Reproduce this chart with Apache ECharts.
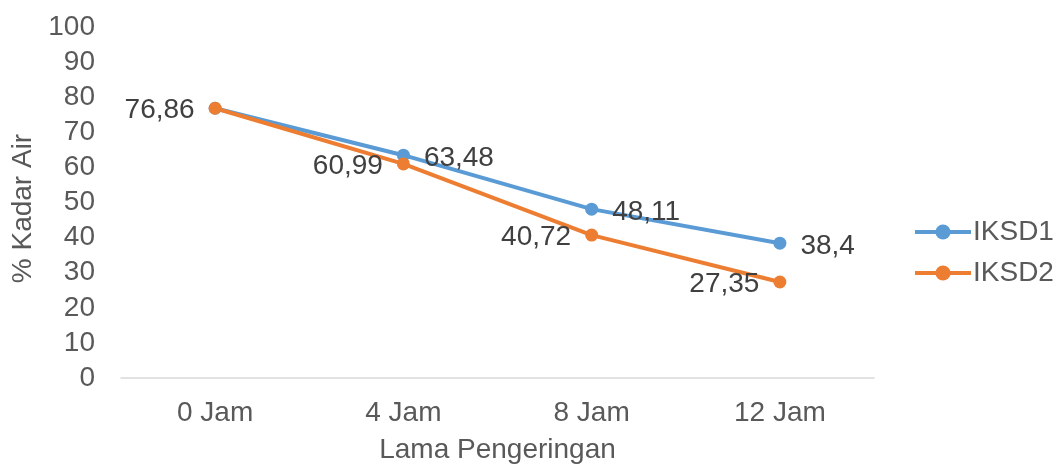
<!DOCTYPE html>
<html>
<head>
    <meta charset="utf-8">
    <title>Kadar Air</title>
    <script src="https://cdn.jsdelivr.net/npm/echarts@6/dist/echarts.min.js"></script>
    <style>
        body { margin: 0; background: #fff; }
        #chart { width: 1063px; height: 469px; }
    </style>
</head>
<body>
    <div id="chart"></div>
    <script>
        var categories = ['0 Jam', '4 Jam', '8 Jam', '12 Jam'];
        var iksd1 = [76.86, 63.48, 48.11, 38.4];
        var iksd2 = [76.86, 60.99, 40.72, 27.35];

        var font = 'Liberation Sans, Arial, sans-serif';

        function fmt(p) {
            return String(p.value).replace('.', ',');
        }

        var chart = echarts.init(document.getElementById('chart'));
        chart.setOption({
            animation: false,
            textStyle: { fontFamily: font },
            grid: { left: 121, right: 189, top: 27, bottom: 91 },
            legend: {
                orient: 'vertical',
                left: 913,
                top: 218,
                padding: 0,
                itemWidth: 56,
                itemHeight: 19,
                itemGap: 13,
                lineStyle: { width: 4 },
                textStyle: { fontSize: 28, color: '#595959', lineHeight: 28, padding: [0, 0, 0, -3] },
                data: ['IKSD1', 'IKSD2']
            },
            xAxis: {
                type: 'category',
                data: categories,
                name: 'Lama Pengeringan',
                nameLocation: 'middle',
                nameGap: 58,
                nameTextStyle: { fontSize: 28, color: '#595959' },
                axisLine: { lineStyle: { color: '#D9D9D9', width: 1.5 } },
                axisTick: { show: false },
                axisLabel: { fontSize: 28, color: '#595959', margin: 21 }
            },
            yAxis: {
                type: 'value',
                min: 0,
                max: 100,
                interval: 10,
                name: '% Kadar Air',
                nameLocation: 'middle',
                nameGap: 84,
                nameTextStyle: { fontSize: 28, color: '#595959', padding: [0, 12, 0, 0] },
                axisLine: { show: false },
                axisTick: { show: false },
                splitLine: { show: false },
                axisLabel: { fontSize: 28, color: '#595959', margin: 26 }
            },
            series: [{
                name: 'IKSD1',
                type: 'line',
                data: iksd1,
                color: '#5B9BD5',
                lineStyle: { width: 4 },
                symbol: 'circle',
                symbolSize: 13,
                label: {
                    show: true,
                    position: 'right',
                    distance: 14,
                    offset: [0, 3],
                    fontSize: 28,
                    color: '#404040',
                    formatter: function (p) { return p.dataIndex === 0 ? '' : fmt(p); }
                }
            }, {
                name: 'IKSD2',
                type: 'line',
                data: iksd2,
                color: '#ED7D31',
                lineStyle: { width: 4 },
                symbol: 'circle',
                symbolSize: 13,
                label: {
                    show: true,
                    position: 'left',
                    distance: 14,
                    offset: [0, 2],
                    fontSize: 28,
                    color: '#404040',
                    formatter: fmt
                }
            }]
        });
    </script>
</body>
</html>
